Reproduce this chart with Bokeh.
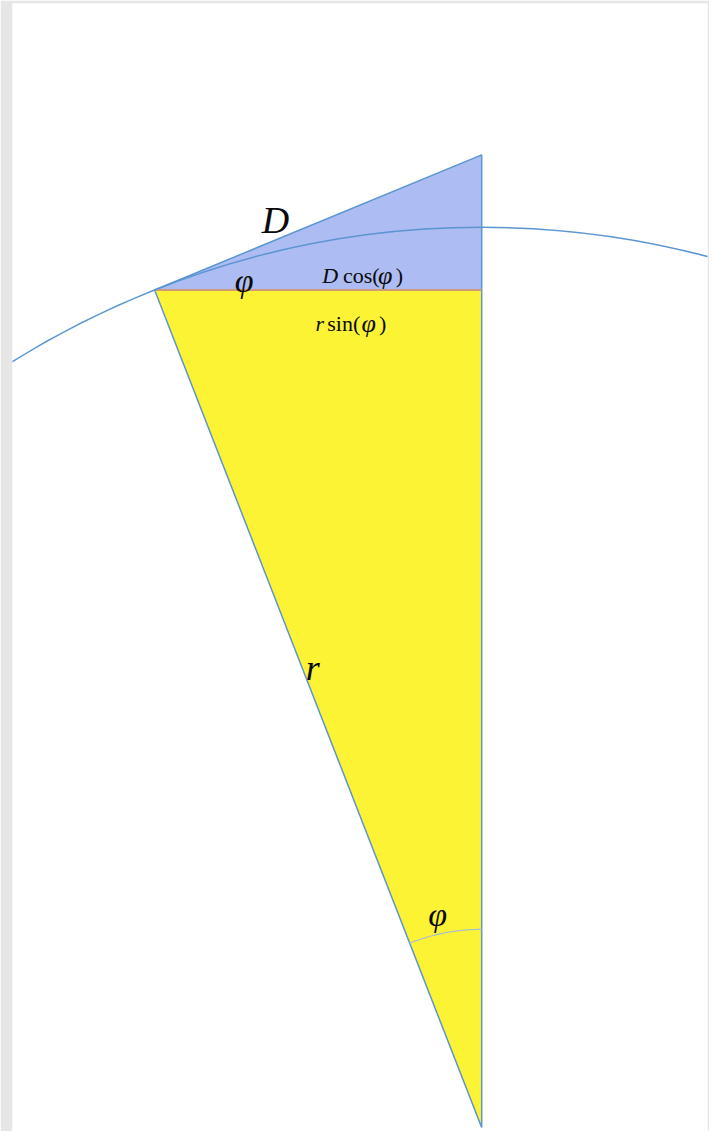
import math
import numpy as np
from bokeh.plotting import figure
from bokeh.models import Range1d
from bokeh.core.properties import value
from bokeh.embed import file_html
from bokeh.resources import INLINE

# Geometry (pixel-like units, origin = circle centre)
r_len = 913.0          # radius r
phi_deg = 21.5         # angle phi at the centre
D_len = 361.0          # length of tangent segment D
D_phi_deg = 22.3       # angle of D against the horizontal
small_arc_r = 201.0    # radius of the small angle marker

phi = math.radians(phi_deg)
phi_d = math.radians(D_phi_deg)
px, py = -r_len * math.sin(phi), r_len * math.cos(phi)
top_y = py + D_len * math.sin(phi_d)

yellow_x = [0.0, px, 0.0]
yellow_y = [0.0, py, py]
blue_x = [px, 0.0, 0.0]
blue_y = [py, top_y, py]

BLUE_FILL = "#adbcf2"
YELLOW = "#fdf335"
EDGE = "#5b95d2"
ORANGE = "#ee9a5e"
SERIF = value("Liberation Serif")

p = figure(width=709, height=1131, output_backend="svg", toolbar_location=None,
           x_range=Range1d(-480, 231), y_range=Range1d(-4, 1140),
           min_border_left=12, min_border_right=2, min_border_top=3, min_border_bottom=0,
           border_fill_color="#e6e6e6", background_fill_color="white")
p.axis.visible = False
p.grid.visible = False
p.outline_line_color = None

p.patch(yellow_x, yellow_y, fill_color=YELLOW, line_color=EDGE, line_width=1.5)
p.patch(blue_x, blue_y, fill_color=BLUE_FILL, line_color=EDGE, line_width=1.5)
p.line([px, 0.0], [py, py], line_color=ORANGE, line_width=1.5)

# big circle (data units on both axes)
p.ellipse(x=[0], y=[0], width=[2 * r_len], height=[2 * r_len],
          fill_color=None, line_color=EDGE, line_width=1.5)
# small angle marker
t = np.linspace(math.pi / 2, math.pi / 2 + phi, 40)
p.line(small_arc_r * np.cos(t), small_arc_r * np.sin(t), line_color="#a9bfcf", line_width=1.2)

def txt(x, y, s, size, style="normal", align="left", baseline="alphabetic"):
    p.text(x=[x], y=[y], text=[s], text_font=SERIF, text_font_size=f"{size}px",
           text_font_style=style, text_align=align, text_baseline=baseline,
           text_color="#0a0a0a")

# labels
txt(-211, 920, "D", 38, "italic", "center")
txt(-243, 859, "φ", 34, "italic", "center")
txt(-180, 466, "r", 36, "italic", "left")
txt(-45, 216, "φ", 34, "italic", "center")

# D cos(φ)
txt(-163, 864, "D", 22, "italic")
txt(-142, 864, "cos(", 22)
txt(-106, 864, "φ", 26, "italic")
txt(-88, 864, ")", 22)

# r sin(φ)
txt(-170, 815, "r", 22, "italic")
txt(-158, 815, "sin(", 22)
txt(-123, 815, "φ", 26, "italic")
txt(-105, 815, ")", 22)

open("out.html", "w").write(file_html(p, INLINE))
